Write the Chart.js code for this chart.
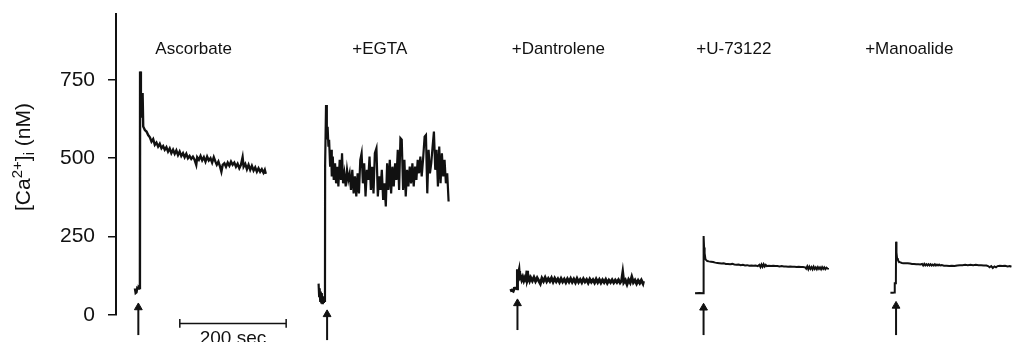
<!DOCTYPE html>
<html><head><meta charset="utf-8">
<script src="https://cdn.jsdelivr.net/npm/chart.js@4.4.1/dist/chart.umd.min.js"></script>
<style>html,body{margin:0;padding:0;background:#fff;}canvas{display:block;}</style>
</head><body>
<canvas id="c" width="1018" height="342"></canvas>
<script>
// ---------- data ----------
const categories = ['Ascorbate', '+EGTA', '+Dantrolene', '+U-73122', '+Manoalide'];
const labelAt = [146, 496, 832, 1162, 1492];        // s, centre of each panel title
const yTicks = [0, 250, 500, 750];
const traceStart = [45, 393, 755, 1105, 1467];      // s, time of the rise on the shared time axis
const arrowAt = [42, 397, 755, 1105, 1467];         // s, stimulus arrows
const arrowTip = [24, 2, 37, 23, 29];               // nM
const arrowBase = [-64, -80, -48, -64, -64];        // nM
const scaleBarSec = [120, 320];
const scaleBarLabel = '200 sec';
const yTitle = ['[Ca', '2+', ']', 'i', ' (nM)'];

const ascT = [-9.4, -8, -6.5, -5, -3.5, -2, -1, 0, 0.3, 1.8,
  3.1, 4.3, 5, 6.2, 9.3, 12.4, 15.5, 18.7, 21.8, 24.9,
  28, 31.1, 34.2, 37.3, 40.5, 43.6, 46.7, 49.8, 52.9, 56,
  59.1, 62.3, 65.4, 68.5, 71.6, 74.7, 77.8, 81, 84.1, 87.2,
  90.3, 93.4, 96.5, 99.6, 102.8, 105.9, 107.7, 110.9, 114, 117.1,
  120.2, 123.3, 126.4, 129.5, 132.7, 135.8, 138.9, 142, 144.5, 147.6,
  150.7, 153.2, 155.7, 158.8, 161.9, 165.1, 168.2, 171.3, 174.4, 177.5,
  180.6, 183.7, 186.9, 190, 193.1, 195, 198.1, 201.2, 204.3, 207.4,
  210.5, 213.7, 216.8, 219.9, 223, 226.1, 229.2, 232.3, 234.8, 236.7];
const ascV = [85, 70, 72, 86, 84, 88, 86, 90, 777, 708,
  697, 633, 708, 601, 590, 585, 574, 567, 553, 561,
  543, 550, 537, 546, 532, 539, 527, 535, 521, 531,
  516, 527, 514, 525, 510, 521, 507, 516, 503, 514,
  500, 507, 498, 505, 495, 479, 503, 495, 507, 493,
  503, 489, 505, 493, 500, 486, 503, 489, 479, 489,
  473, 457, 479, 484, 473, 486, 476, 489, 479, 486,
  473, 482, 468, 479, 503, 473, 482, 465, 479, 463,
  476, 461, 471, 457, 468, 457, 465, 454, 463, 450];

const egtaT = [-12, -11, -10, -9, -8, -7, -6, -5, -4, -3,
  -2, -1, 0, 0.3, 1.6, 2, 3.5, 5, 6.5, 7.8,
  9.7, 11.5, 12.8, 14.7, 16.5, 19, 20.9, 23.4, 25.2, 27.7,
  30.2, 32.1, 34, 36.5, 39, 41.5, 43.9, 46.4, 48.9, 51.4,
  53.9, 56.4, 58.9, 61.4, 63.9, 66.4, 68.9, 71.3, 73.8, 76.3,
  78.8, 81.3, 83.8, 86.3, 88.8, 91.3, 93.8, 96.8, 99.4, 101.9,
  104.4, 106.9, 109.4, 111.9, 114.4, 116.9, 119.4, 121.9, 124.4, 126.9,
  129.4, 131.9, 134.4, 136.9, 139.4, 141.9, 144.4, 146.9, 149.4, 151.9,
  154.4, 156.9, 159.4, 161.9, 164.4, 166.9, 169.4, 171.9, 174.4, 176.9,
  179.4, 181.9, 184.4, 187.4, 189.9, 192.4, 194.9, 197.4, 199.9, 202.4,
  204.9, 207.4, 209.9, 212.4, 214.9, 217.4, 219.9, 222.4, 224.9, 227.4,
  229.9, 231.2, 232.5];
const egtaV = [100, 60, 85, 45, 75, 40, 70, 38, 55, 42,
  60, 45, 50, 479, 479, 670, 560, 600, 537, 559,
  473, 527, 442, 505, 431, 484, 420, 473, 410, 495,
  431, 516, 420, 452, 410, 463, 431, 452, 399, 463,
  388, 442, 378, 452, 388, 495, 516, 420, 484, 378,
  463, 431, 505, 399, 473, 388, 516, 532, 378, 442,
  399, 463, 367, 420, 346, 484, 399, 495, 388, 473,
  410, 484, 431, 527, 399, 564, 559, 399, 495, 378,
  463, 410, 473, 420, 484, 410, 473, 431, 495, 452,
  505, 442, 495, 569, 574, 388, 527, 452, 484, 537,
  585, 463, 527, 410, 537, 420, 516, 442, 495, 420,
  452, 452, 362];

const dantT = [-14, -11, -8, -6, -3, -0.5, 0, 1.5, 3, 4,
  6, 8, 10, 12, 14, 16, 18, 19, 21, 23,
  25, 28, 31, 34, 37, 40, 43, 46, 49, 52,
  55, 58, 61, 64, 67, 70, 73, 76, 79, 82,
  85, 88, 91, 94, 97, 100, 103, 106, 109, 112,
  115, 118, 121, 124, 127, 130, 133, 136, 139, 142,
  145, 148, 151, 154, 157, 160, 163, 166, 169, 172,
  175, 178, 181, 184, 187, 190, 193, 196, 198, 200,
  203, 206, 209, 212, 215, 218, 221, 224, 227, 230,
  233, 236, 237];
const dantV = [77, 79, 76, 85, 86, 84, 146, 128, 140, 118,
  123, 112, 121, 110, 119, 112, 141, 112, 121, 110,
  119, 109, 120, 108, 118, 109, 100, 117, 108, 119,
  107, 116, 108, 118, 106, 117, 107, 115, 105, 116,
  106, 114, 104, 115, 106, 116, 105, 114, 104, 116,
  105, 113, 104, 115, 106, 113, 103, 114, 105, 112,
  103, 114, 104, 113, 103, 112, 104, 113, 102, 111,
  104, 112, 103, 111, 104, 112, 103, 110, 133, 104,
  111, 98, 112, 103, 121, 104, 111, 100, 110, 102,
  111, 101, 108];

const uT = [-16, -8, -0.5, 0, 0.2, 1, 1.5, 2.5, 3.5, 5,
  7, 10, 14, 18, 22, 26, 30, 34, 38, 42,
  46, 50, 54, 58, 62, 66, 70, 74, 78, 82,
  86, 90, 94, 98, 102, 105, 107, 109, 111, 113,
  115, 117, 119, 123, 127, 131, 135, 139, 143, 147,
  151, 155, 159, 163, 167, 171, 175, 179, 183, 187,
  191, 193, 195, 197, 199, 201, 203, 205, 207, 209,
  211, 213, 215, 217, 219, 221, 223, 225, 227, 229,
  231, 233, 234];
const uV = [69, 70, 69, 69, 252, 215, 190, 197, 178, 175,
  172, 171, 170, 169, 167, 166, 165, 164, 165, 163,
  163, 162, 163, 161, 160, 161, 159, 160, 158, 159,
  157, 158, 157, 158, 156, 160, 153, 161, 154, 162,
  155, 160, 156, 157, 156, 157, 156, 156, 155, 156,
  155, 155, 154, 155, 154, 154, 153, 154, 153, 153,
  152, 148, 155, 146, 154, 147, 153, 146, 154, 147,
  152, 146, 153, 147, 152, 146, 153, 147, 152, 146,
  151, 148, 150];

const manoT = [-10.6, -6, -3, -2.5, -2.4, -0.3, 0, 0.8, 1.9, 3.5,
  5, 8, 11, 14, 18, 22, 26, 30, 34, 38,
  42, 46, 49, 51, 53, 55, 57, 59, 61, 63,
  65, 67, 69, 71, 73, 75, 77, 79, 81, 83,
  86, 90, 95, 100, 105, 110, 115, 120, 125, 130,
  135, 140, 145, 150, 155, 160, 165, 170, 173, 176,
  179, 182, 185, 188, 191, 195, 200, 205, 210, 214,
  217];
const manoV = [71, 71, 72, 72, 101, 101, 234, 200, 181, 176,
  170, 168, 166, 165, 165, 165, 164, 163, 163, 162,
  162, 161, 163, 158, 163, 158, 162, 158, 162, 158,
  162, 158, 161, 158, 162, 158, 161, 158, 161, 158,
  159, 157, 157, 156, 157, 156, 158, 159, 159, 160,
  159, 160, 159, 160, 159, 159, 158, 158, 156, 152,
  156, 150, 155, 152, 156, 157, 156, 157, 155, 156,
  154];

// ---------- chart ----------
const FONT = '"Liberation Sans", Arial, Helvetica, sans-serif';
const ink = '#111111';
const traces = [[ascT, ascV], [egtaT, egtaV], [dantT, dantV], [uT, uV], [manoT, manoV]];
const traceWidth = [2.4, 2.2, 3, 2, 2];

const datasets = traces.map(([T, V], i) => ({
  label: categories[i],
  data: T.map((t, j) => ({x: traceStart[i] + t, y: V[j]})),
  borderColor: ink, borderWidth: traceWidth[i], pointRadius: 0, tension: 0, clip: false
}));
arrowAt.forEach((a, i) => datasets.push({
  label: 'arrow',
  data: [{x: a, y: arrowBase[i]}, {x: a, y: arrowTip[i]}],
  borderColor: ink, borderWidth: 2, tension: 0, clip: false,
  pointStyle: 'triangle', pointRadius: [0, 4.5], pointBackgroundColor: ink,
  pointBorderColor: ink, pointBorderWidth: 1
}));
const barY = -27;
datasets.push({
  label: 'scale',
  data: [{x: scaleBarSec[0], y: barY + 14}, {x: scaleBarSec[0], y: barY - 14}, {x: scaleBarSec[0], y: barY},
         {x: scaleBarSec[1], y: barY}, {x: scaleBarSec[1], y: barY + 14}, {x: scaleBarSec[1], y: barY - 14}],
  borderColor: ink, borderWidth: 1.5, pointRadius: 0, tension: 0, clip: false
});

const annotations = {
  id: 'annotations',
  afterDraw(chart) {
    const {ctx, chartArea, scales: {x, y}} = chart;
    ctx.save();
    ctx.fillStyle = ink;
    ctx.textAlign = 'center';
    ctx.textBaseline = 'alphabetic';
    ctx.font = '17px ' + FONT;
    categories.forEach((c, i) => ctx.fillText(c, x.getPixelForValue(labelAt[i]), chartArea.top + 40));
    ctx.font = '19px ' + FONT;
    ctx.fillText(scaleBarLabel, x.getPixelForValue((scaleBarSec[0] + scaleBarSec[1]) / 2), y.getPixelForValue(barY) + 21);

    // y-axis title with superscript / subscript
    const big = '21px ' + FONT, small = '15px ' + FONT;
    const parts = [[yTitle[0], big, 0], [yTitle[1], small, -8], [yTitle[2], big, 0], [yTitle[3], small, 4], [yTitle[4], big, 0]];
    let total = 0;
    parts.forEach(p => { ctx.font = p[1]; total += ctx.measureText(p[0]).width; });
    ctx.translate(30, 157);
    ctx.rotate(-Math.PI / 2);
    ctx.textAlign = 'left';
    let cx = -total / 2;
    parts.forEach(p => { ctx.font = p[1]; ctx.fillText(p[0], cx, p[2]); cx += ctx.measureText(p[0]).width; });
    ctx.restore();
  }
};

new Chart(document.getElementById('c'), {
  type: 'line',
  data: {datasets},
  plugins: [annotations],
  options: {
    responsive: false, animation: false, devicePixelRatio: 1,
    layout: {padding: {top: 14, bottom: 27, left: 0, right: 0}},
    plugins: {legend: {display: false}, tooltip: {enabled: false}},
    scales: {
      x: {type: 'linear', min: 0, max: 1686, display: false},
      y: {
        type: 'linear', min: 0, max: 960,
        afterBuildTicks: s => { s.ticks = yTicks.map(v => ({value: v})); },
        afterFit: s => { s.width = 116; s.paddingTop = 0; s.paddingBottom = 0; },
        ticks: {color: ink, font: {family: FONT, size: 21}, padding: 13},
        grid: {drawOnChartArea: false, drawTicks: true, tickLength: 8, color: ink, lineWidth: 1.5},
        border: {display: true, color: ink, width: 2}
      }
    }
  }
});
</script>
</body></html>
